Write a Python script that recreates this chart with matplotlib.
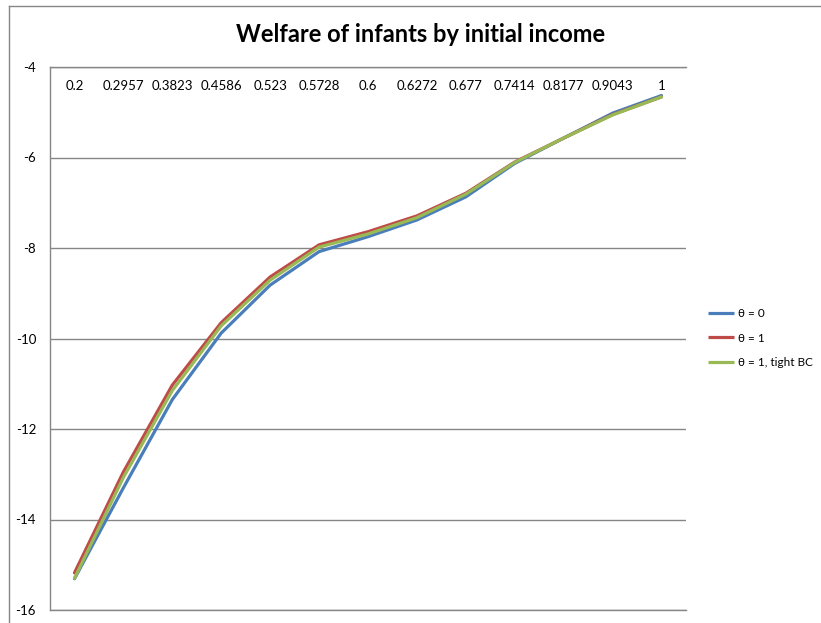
import matplotlib
matplotlib.use("Agg")
import matplotlib.pyplot as plt
from matplotlib.lines import Line2D

plt.rcParams['font.family'] = ['Lato', 'DejaVu Sans']

# initial income categories (shown along the top)
categories = ["0.2", "0.2957", "0.3823", "0.4586", "0.523", "0.5728", "0.6",
              "0.6272", "0.677", "0.7414", "0.8177", "0.9043", "1"]

welfare_theta0 = [-15.31, -13.30, -11.35, -9.88, -8.82, -8.08, -7.75,
                  -7.38, -6.87, -6.13, -5.57, -5.02, -4.63]
welfare_theta1 = [-15.18, -12.95, -11.03, -9.65, -8.64, -7.93, -7.64,
                  -7.29, -6.79, -6.10, -5.57, -5.05, -4.66]
welfare_tight = [-15.30, -13.07, -11.15, -9.72, -8.71, -7.98, -7.69,
                 -7.33, -6.81, -6.11, -5.57, -5.06, -4.66]

series_labels = ["θ = 0", "θ = 1", "θ = 1, tight BC"]
series_colors = ["#4A7EBB", "#BE4B48", "#98B954"]

y_ticks = [-4, -6, -8, -10, -12, -14, -16]

fig = plt.figure(figsize=(8.21, 6.23), dpi=100)
ax = fig.add_axes([50/821, 1 - 610/623, (686-50)/821, (610-67)/623])

x = list(range(len(categories)))
for vals, lab, col in zip([welfare_theta0, welfare_theta1, welfare_tight],
                          series_labels, series_colors):
    ax.plot(x, vals, color=col, linewidth=2.3, label=lab,
            solid_joinstyle='round', solid_capstyle='round')

ax.set_xlim(-0.5, len(categories) - 0.5)
ax.set_ylim(-16, -4)
ax.set_yticks(y_ticks)
ax.set_yticklabels([str(t) for t in y_ticks])
ax.yaxis.grid(True, color='#868686', linewidth=1.0)
ax.set_axisbelow(True)

ax.set_xticks(x)
ax.set_xticklabels(categories)
ax.tick_params(axis='x', top=True, labeltop=True, bottom=False,
               labelbottom=False, length=0, pad=-18, labelsize=9.5)
ax.tick_params(axis='y', length=0, pad=10, labelsize=9.5)

for side in ['left', 'top', 'bottom']:
    ax.spines[side].set_color('#868686')
    ax.spines[side].set_linewidth(1.0)
ax.spines['right'].set_visible(False)

fig.text(421/821, 1 - 35/623, "Welfare of infants by initial income",
         ha='center', va='center', fontsize=17, fontweight='bold')

leg = fig.legend(loc='center left', bbox_to_anchor=(697/821, 1 - 338/623),
                 frameon=False, fontsize=8.5, handlelength=2.2, handletextpad=0.35,
                 labelspacing=1.15)
for h in leg.legend_handles:
    h.set_solid_capstyle('butt')

# outer chart border (only left and top are in view)
fig.add_artist(Line2D([9/821, 9/821], [0, 1 - 6/623], color='#868686', linewidth=1.0))
fig.add_artist(Line2D([9/821, 1], [1 - 6/623, 1 - 6/623], color='#868686', linewidth=1.0))

fig.savefig("out.png", dpi=100)
